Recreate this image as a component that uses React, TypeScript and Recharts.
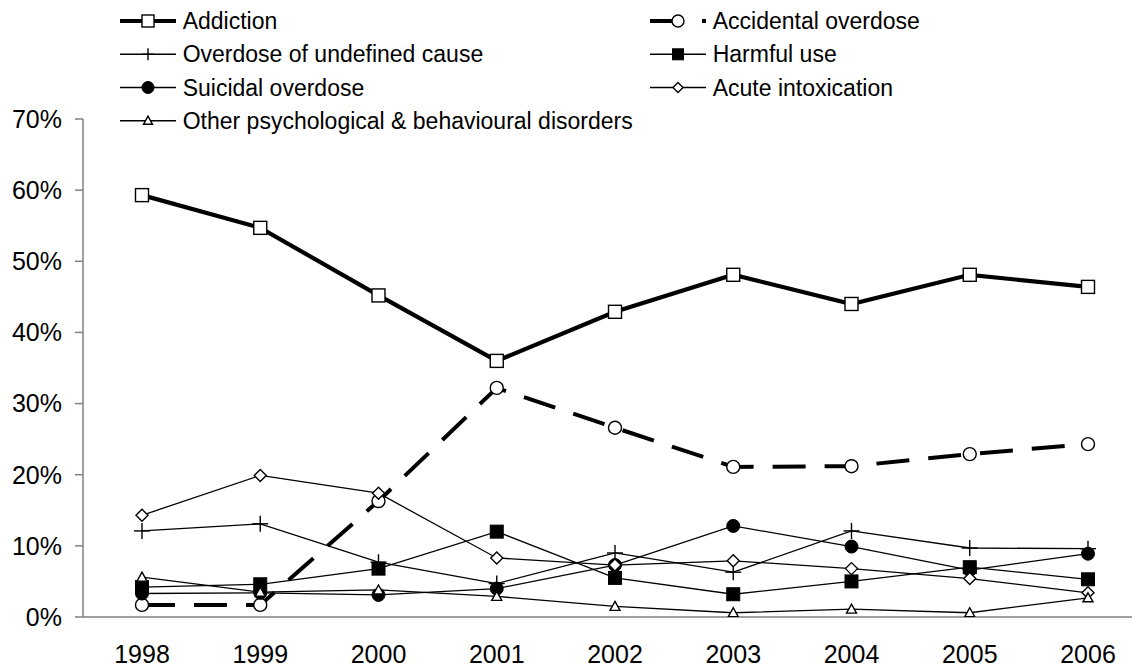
import React from 'react';
import { LineChart, Line, XAxis, YAxis, Legend } from 'recharts';

const years = ['1998', '1999', '2000', '2001', '2002', '2003', '2004', '2005', '2006'];
const addiction = [59.3, 54.7, 45.2, 36.0, 42.9, 48.1, 44.0, 48.1, 46.4];
const accidental = [1.7, 1.7, 16.3, 32.2, 26.6, 21.1, 21.2, 22.9, 24.3];
const undefinedCause = [12.1, 13.1, 7.7, 4.7, 9.0, 6.3, 12.1, 9.7, 9.6];
const harmful = [4.2, 4.6, 6.8, 12.0, 5.5, 3.2, 5.0, 7.0, 5.3];
const suicidal = [3.3, 3.4, 3.1, 4.0, 7.3, 12.8, 9.9, 6.6, 8.9];
const acute = [14.3, 19.9, 17.4, 8.3, 7.3, 7.9, 6.8, 5.4, 3.4];
const other = [5.6, 3.5, 3.8, 2.9, 1.5, 0.6, 1.1, 0.6, 2.7];
const yTicks = [0, 10, 20, 30, 40, 50, 60, 70];

const data = years.map((year, i) => ({
  year,
  addiction: addiction[i],
  accidental: accidental[i],
  undefinedCause: undefinedCause[i],
  harmful: harmful[i],
  suicidal: suicidal[i],
  acute: acute[i],
  other: other[i],
}));

const FONT = '"Liberation Sans", Arial, Helvetica, sans-serif';

type Shape = 'openSquare' | 'openCircle' | 'plus' | 'filledSquare' | 'filledCircle' | 'diamond' | 'triangle';

function drawMarker(shape: Shape, cx: number, cy: number, s: number) {
  const h = s / 2;
  switch (shape) {
    case 'openSquare':
      return <rect x={cx - h} y={cy - h} width={s} height={s} fill="#fff" stroke="#000" strokeWidth={1.4} />;
    case 'openCircle':
      return <circle cx={cx} cy={cy} r={h} fill="#fff" stroke="#000" strokeWidth={1.4} />;
    case 'plus':
      return (
        <g stroke="#000" strokeWidth={1.4}>
          <line x1={cx - h} y1={cy} x2={cx + h} y2={cy} />
          <line x1={cx} y1={cy - h} x2={cx} y2={cy + h} />
        </g>
      );
    case 'filledSquare':
      return <rect x={cx - h} y={cy - h} width={s} height={s} fill="#000" stroke="#000" strokeWidth={1} />;
    case 'filledCircle':
      return <circle cx={cx} cy={cy} r={h} fill="#000" stroke="#000" strokeWidth={1} />;
    case 'diamond':
      return (
        <polygon
          points={`${cx},${cy - h} ${cx + h},${cy} ${cx},${cy + h} ${cx - h},${cy}`}
          fill="#fff"
          stroke="#000"
          strokeWidth={1.4}
        />
      );
    case 'triangle':
      return (
        <polygon
          points={`${cx},${cy - h} ${cx + h},${cy + h * 0.8} ${cx - h},${cy + h * 0.8}`}
          fill="#fff"
          stroke="#000"
          strokeWidth={1.4}
        />
      );
  }
  return null;
}

const makeDot = (shape: Shape, size: number) => (props: any) => {
  const { cx, cy, index } = props;
  if (cx == null || cy == null) return <g key={`e-${index}`} />;
  return <g key={`d-${shape}-${index}`}>{drawMarker(shape, cx, cy, size)}</g>;
};

const seriesNames = {
  addiction: 'Addiction',
  accidental: 'Accidental overdose',
  undefinedCause: 'Overdose of undefined cause',
  harmful: 'Harmful use',
  suicidal: 'Suicidal overdose',
  acute: 'Acute intoxication',
  other: 'Other psychological & behavioural disorders',
};

type LegendItem = {
  key: keyof typeof seriesNames;
  shape: Shape;
  size: number;
  width: number;
  dash?: string;
  col: number;
  row: number;
};

const legendItems: LegendItem[] = [
  { key: 'addiction', shape: 'openSquare', size: 12, width: 4.2, col: 0, row: 0 },
  { key: 'undefinedCause', shape: 'plus', size: 12, width: 1.4, col: 0, row: 1 },
  { key: 'suicidal', shape: 'filledCircle', size: 12, width: 1.4, col: 0, row: 2 },
  { key: 'other', shape: 'triangle', size: 9, width: 1.4, col: 0, row: 3 },
  { key: 'accidental', shape: 'openCircle', size: 12, width: 4, dash: '33 19', col: 1, row: 0 },
  { key: 'harmful', shape: 'filledSquare', size: 11, width: 1.4, col: 1, row: 1 },
  { key: 'acute', shape: 'diamond', size: 10, width: 1.4, col: 1, row: 2 },
];

const renderLegend = () => {
  const colX = [112, 642];
  const rowY = [13, 46.3, 79.5, 112.7];
  return (
    <svg width={1132} height={140} style={{ display: 'block' }}>
      {legendItems.map((it) => {
        const x0 = colX[it.col];
        const y = rowY[it.row];
        return (
          <g key={it.key}>
            <line x1={x0} y1={y} x2={x0 + 56} y2={y} stroke="#000" strokeWidth={it.width} strokeDasharray={it.dash} />
            {drawMarker(it.shape, x0 + 28, y, it.size)}
            <text x={x0 + 62.7} y={y} dy="0.35em" fontSize={23} fontFamily={FONT} fill="#000">
              {seriesNames[it.key]}
            </text>
          </g>
        );
      })}
    </svg>
  );
};

export default function App() {
  return (
    <div style={{ width: 1132, height: 660, position: 'relative', background: '#fff' }}>
      <LineChart width={1132} height={660} data={data} margin={{ top: 111, right: 0, bottom: 0, left: 0 }}>
        <XAxis
          dataKey="year"
          padding={{ left: 59, right: 52 }}
          axisLine={{ stroke: '#808080', strokeWidth: 1.5 }}
          tickLine={false}
          tickSize={0}
          tickMargin={28}
          height={51}
          interval={0}
          tick={{ fill: '#000', fontSize: 25, fontFamily: FONT }}
        />
        <YAxis
          domain={[0, 70]}
          ticks={yTicks}
          allowDataOverflow
          width={75}
          tickFormatter={(v: number) => `${v}%`}
          axisLine={{ stroke: '#808080', strokeWidth: 1.5 }}
          tickLine={{ stroke: '#808080', strokeWidth: 1.5 }}
          tickSize={8}
          tickMargin={13}
          tick={{ fill: '#000', fontSize: 25, fontFamily: FONT }}
        />
        <Legend
          layout="horizontal"
          verticalAlign="middle"
          align="center"
          content={renderLegend}
          wrapperStyle={{ position: 'absolute', top: 0, left: 0, width: 1132, height: 140 }}
        />
        <Line
          dataKey="addiction"
          name={seriesNames.addiction}
          stroke="#000"
          strokeWidth={4.2}
          dot={makeDot('openSquare', 13)}
          isAnimationActive={false}
          legendType="none"
        />
        <Line
          dataKey="accidental"
          name={seriesNames.accidental}
          stroke="#000"
          strokeWidth={4}
          strokeDasharray="33 19"
          dot={makeDot('openCircle', 13)}
          isAnimationActive={false}
          legendType="none"
        />
        <Line
          dataKey="undefinedCause"
          name={seriesNames.undefinedCause}
          stroke="#000"
          strokeWidth={1.3}
          dot={makeDot('plus', 16)}
          isAnimationActive={false}
          legendType="none"
        />
        <Line
          dataKey="suicidal"
          name={seriesNames.suicidal}
          stroke="#000"
          strokeWidth={1.3}
          dot={makeDot('filledCircle', 13)}
          isAnimationActive={false}
          legendType="none"
        />
        <Line
          dataKey="harmful"
          name={seriesNames.harmful}
          stroke="#000"
          strokeWidth={1.3}
          dot={makeDot('filledSquare', 13)}
          isAnimationActive={false}
          legendType="none"
        />
        <Line
          dataKey="acute"
          name={seriesNames.acute}
          stroke="#000"
          strokeWidth={1.3}
          dot={makeDot('diamond', 12)}
          isAnimationActive={false}
          legendType="none"
        />
        <Line
          dataKey="other"
          name={seriesNames.other}
          stroke="#000"
          strokeWidth={1.3}
          dot={makeDot('triangle', 10)}
          isAnimationActive={false}
          legendType="none"
        />
      </LineChart>
    </div>
  );
}
